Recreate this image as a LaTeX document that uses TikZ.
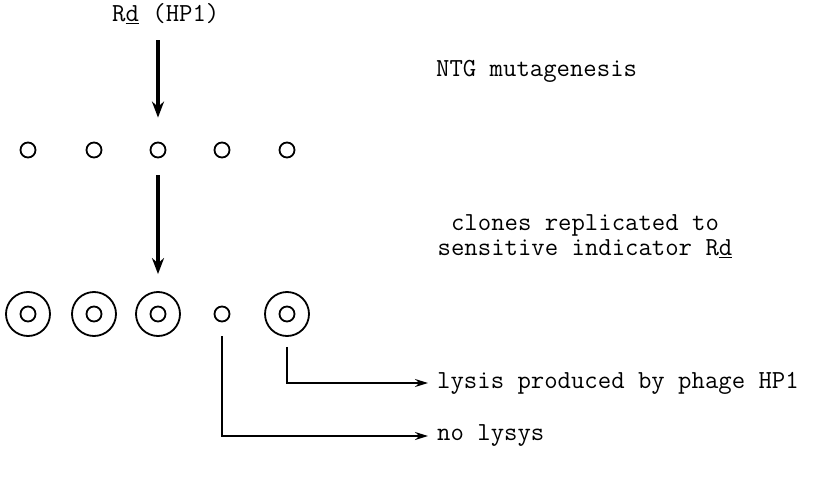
\documentclass[tikz,border=0pt]{standalone}
\usepackage{fontspec}
\usetikzlibrary{arrows.meta}

\begin{document}
\begin{tikzpicture}[x=1pt,y=1pt,yscale=-1,xscale=1,
  lbl/.style={font=\ttfamily\fontsize{26}{28}\selectfont, inner sep=0pt},
  colony/.style={draw, circle, line width=1.8pt, minimum size=15pt, inner sep=0pt},
  plaque/.style={draw, circle, line width=1.8pt, minimum size=44pt, inner sep=0pt},
  bigarrow/.style={line width=3.2pt, -{Stealth[length=16pt,width=12pt]}},
  leadline/.style={line width=1.8pt, -{Stealth[length=13pt,width=8pt]}}]
\useasboundingbox (0,0) rectangle (813,484);

% Text Node
\node[lbl, anchor=west] (strain) at (112,14) {R\underline{d} (HP1)};
% Text Node
\node[lbl, anchor=west] (ntg) at (436,71) {NTG mutagenesis};
% Text Node
\node[lbl, align=center] (replica) at (585,236) {clones replicated to\\[-3pt]sensitive indicator R\underline{d}};

% mutagenized clones
\foreach \i/\x in {1/28,2/94,3/158,4/222,5/287}
  \node[colony] (c\i) at (\x,150) {};

% replica plate: lysis halos
\foreach \i/\x in {1/28,2/94,3/158,5/287}
  \node[plaque] (p\i) at (\x,314) {};
\foreach \i/\x in {1/28,2/94,3/158,4/222,5/287}
  \node[colony] (r\i) at (\x,314) {};

% Text Node
\node[lbl, anchor=west] (lysis) at (437,383) {lysis produced by phage HP1};
% Text Node
\node[lbl, anchor=west] (nolysis) at (437,436) {no lysys};

\draw[bigarrow, shorten <=16pt, shorten >=24pt] (strain.south -| c3) -- (c3.north);
\draw[bigarrow, shorten <=17pt, shorten >=17pt] (c3.south) -- (p3.north);
\draw[leadline, shorten <=10pt, shorten >=9pt] (p5.south) |- (lysis.west);
\draw[leadline, shorten <=14pt, shorten >=9pt] (r4.south) |- (nolysis.west);

\end{tikzpicture}
\end{document}
